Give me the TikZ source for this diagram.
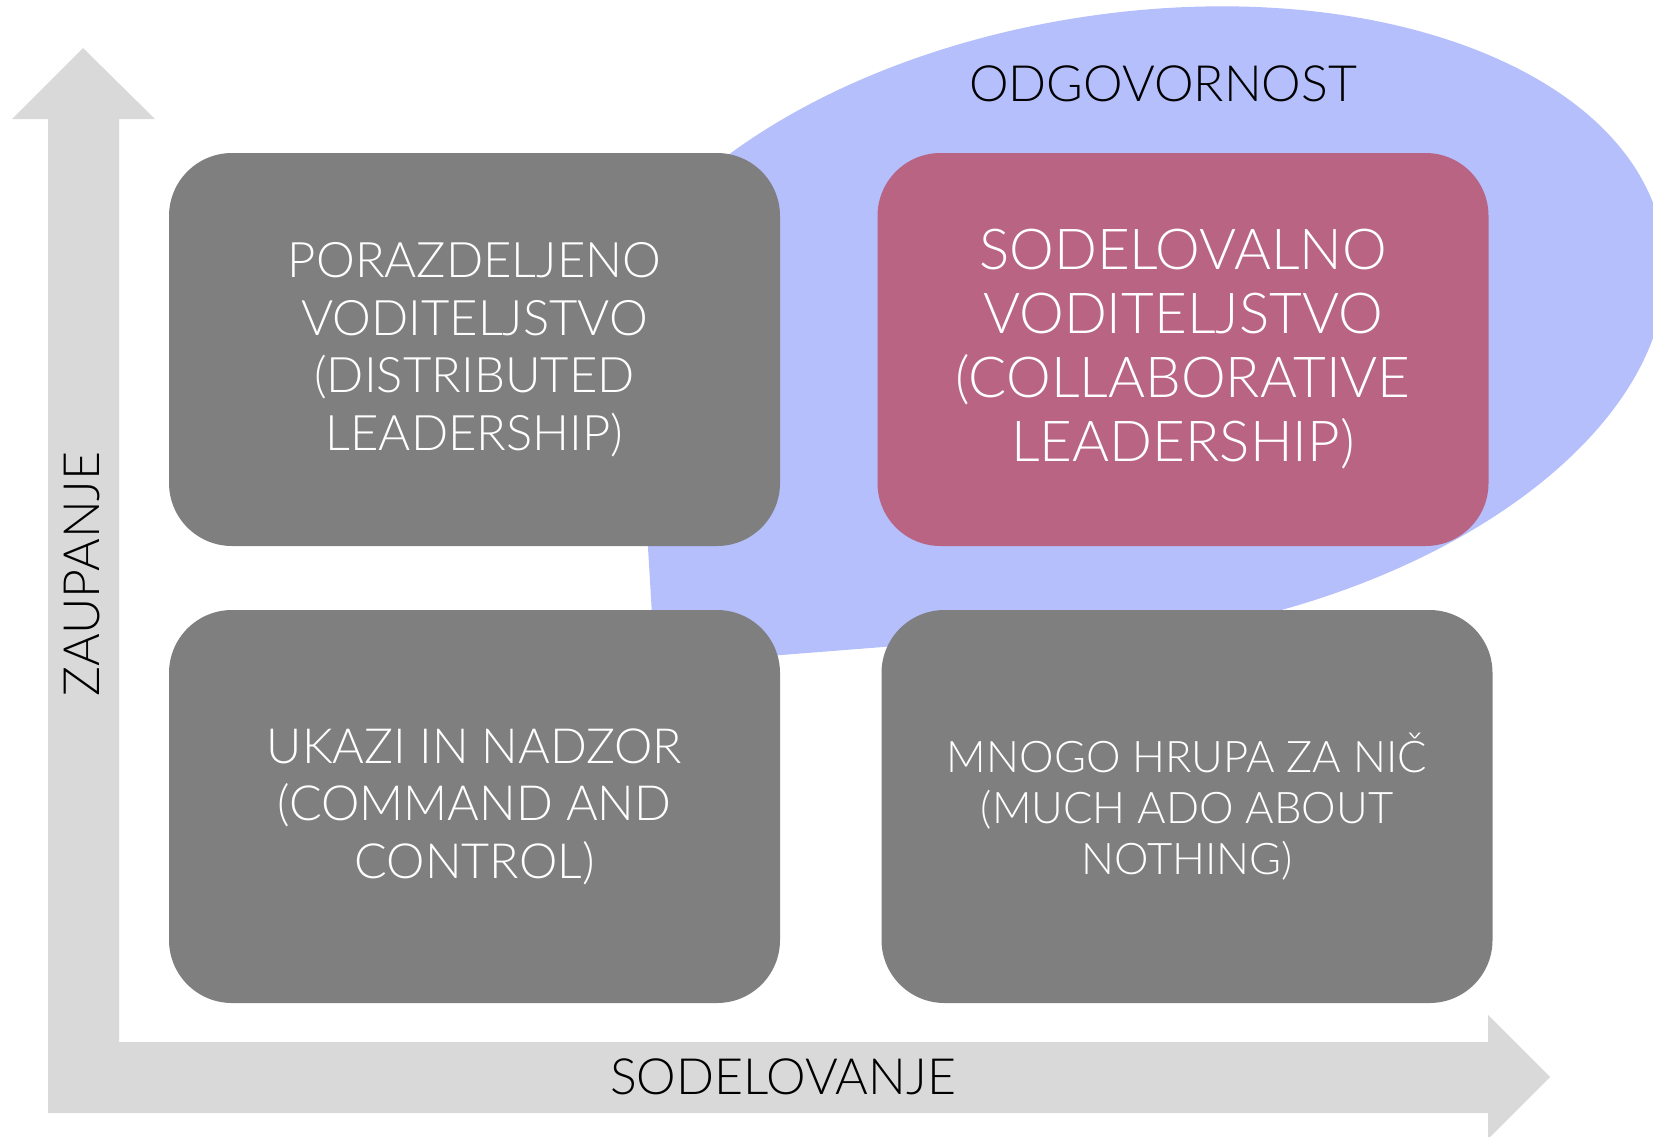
\documentclass[tikz,border=0pt]{standalone}
\usepackage{fontspec}
\setmainfont{Lato Light}
\definecolor{axisgray}{HTML}{D9D9D9}
\definecolor{boxgray}{HTML}{7F7F7F}
\definecolor{collabpink}{HTML}{B86482}
\definecolor{respblue}{HTML}{B4BFFC}
\begin{document}
\begin{tikzpicture}[x=1pt,y=-1pt,
    quad/.style={rectangle, rounded corners=63pt, fill=boxgray, text=white,
      minimum width=611pt, minimum height=393pt, align=center, inner sep=0pt},
    axislabel/.style={font=\fontsize{50}{58}\selectfont, text=black, inner sep=0pt}]

    \useasboundingbox (0,0) rectangle (1653,1136);
    \clip (0,0) rectangle (1653,1136);

    %%responsibility area
    \fill[respblue, rotate around={8.93:(1126,325.5)}] (1126,325.5)
        ellipse [x radius=544, y radius=311.5];
    \fill[respblue] (620,300) -- (641,430) -- (655,665) -- (1060,633) -- (1000,400) -- cycle;

    %%axes
    \fill[axisgray] (12,119) -- (83,48) -- (155,119) -- (119,119) -- (119,1042)
        -- (1488,1042) -- (1488,1015) -- (1550,1077) -- (1488,1139) -- (1488,1113)
        -- (48,1113) -- (48,119) -- cycle;
    \node[axislabel, rotate=90] (trust) at (82,574) {ZAUPANJE};
    \node[axislabel] (cooperation) at (783,1077) {SODELOVANJE};
    \node[axislabel] (responsibility) at (1163,84) {ODGOVORNOST};

    %%quadrants
    \node[quad, font=\fontsize{49}{57.5}\selectfont] (distributed) at (474.5,349.5)
        {PORAZDELJENO\\VODITELJSTVO\\(DISTRIBUTED\\LEADERSHIP)};
    \node[quad, fill=collabpink, font=\fontsize{56.5}{64}\selectfont] (collaborative) at (1183,349.5)
        {SODELOVALNO\\VODITELJSTVO\\(COLLABORATIVE\\LEADERSHIP)};
    \node[quad, font=\fontsize{48.5}{57.5}\selectfont] (command) at (474.5,806.5)
        {UKAZI IN NADZOR\\(COMMAND AND\\CONTROL)};
    \node[quad, font=\fontsize{43.6}{51}\selectfont] (muchado) at (1187,806.5)
        {MNOGO HRUPA ZA NIČ\\(MUCH ADO ABOUT\\NOTHING)};
\end{tikzpicture}
\end{document}
